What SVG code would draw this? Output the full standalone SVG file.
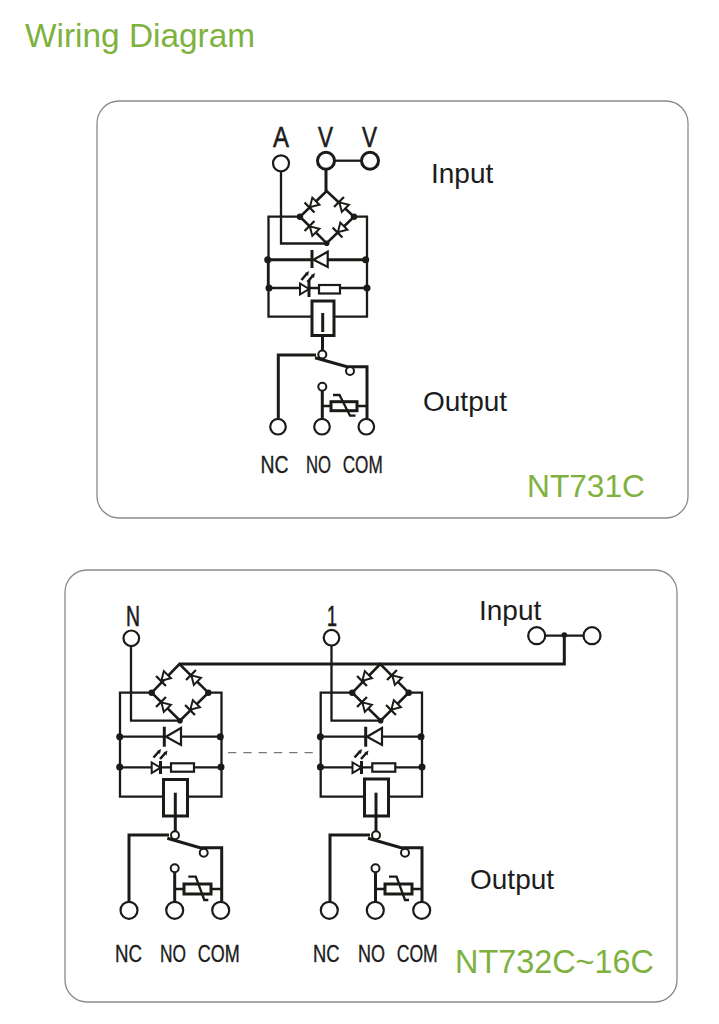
<svg xmlns="http://www.w3.org/2000/svg" xmlns:xlink="http://www.w3.org/1999/xlink" width="719" height="1024" viewBox="0 0 719 1024">
<style>
text{font-family:"Liberation Sans",Arial,sans-serif;fill:#1c1c1c}
.g{fill:#7fb13f}
.panel{fill:#fff;stroke:#8a8a8a;stroke-width:1.3}
.w{fill:none;stroke:#1c1a17;stroke-width:2.3;stroke-linejoin:miter}
.h{fill:none;stroke:#1c1a17;stroke-width:3;stroke-linejoin:miter}
.m{fill:none;stroke:#1c1a17;stroke-width:2.6;stroke-linejoin:miter}
.t{fill:#fff;stroke:#1c1a17;stroke-width:2.2}
.s{fill:#fff;stroke:#1c1a17;stroke-width:2}
.b{fill:#fff;stroke:#1c1a17;stroke-width:3}
.d{fill:#1c1a17}
.c{font-size:23px;stroke:#1c1c1c;stroke-width:.35}
.l{font-size:29px;stroke:#1c1c1c;stroke-width:.6}
.x{font-size:28px}
</style>
<defs>
<g id="bd"><path d="M0 -7V7" class="w"/><path d="M0.500 0L9 -5V5Z" class="s"/></g>
</defs>
<rect width="719" height="1024" fill="#fff"/>
<text class="g" x="25" y="47" font-size="33.4">Wiring Diagram</text>
<rect id="panel-top" class="panel" x="97" y="101" width="591" height="417" rx="22"/>
<rect id="panel-bottom" class="panel" x="65" y="570" width="612" height="432" rx="22"/>

<g id="connectors">
<path class="w" d="M281 171V243.500H327"/>
<path class="h" d="M326 169V191"/>
<path class="w" d="M334 160.700H362"/>
<path class="m" d="M326.700 191L300 216.700L326.700 243.300L354 216.700Z"/>
<path class="w" d="M300 216.700H268.500V316.700H312M354 216.700H367V316.700H334"/>
<path class="h" d="M268 259.700H312M328 259.700H366"/>
<path class="w" d="M268 259.700V288M269 288H301M309 288H319M340 288H367"/>
<path class="h" d="M322.500 335V351"/>
<path class="h" d="M278.300 418V355H316M315 357.700L347 366.700H367V418"/>
<path class="h" d="M322.300 390V418"/>
<path class="w" d="M322.300 406H331M357.300 406H367"/>
<path class="w" d="M131 646V720.700H180"/>
<path class="h" d="M179.500 664H564.300V635"/>
<path class="w" d="M545.500 635.700H583"/>
<path class="m" d="M179.500 664L151.700 692.700L180 720.700L208.300 692.700Z"/>
<path class="w" d="M151.700 692.700H120V796.700H163M208.300 692.700H221.500V796.700H188"/>
<path class="w" d="M120 736.700H164M181 736.700H221"/>
<path class="w" d="M120 767.300H152M160 767.300H171M194 767.300H221"/>
<path class="h" d="M175.300 816V832"/>
<path class="h" d="M129 901.500V835H169M167.300 838.300L200 847.700H221.700V901.500"/>
<path class="h" d="M174.700 871.700V901.500"/>
<path class="w" d="M174.700 889H184M211 889H221.700"/>
<path class="w" d="M331.500 646V720.700H381"/>
<path class="m" d="M380.300 664L352.300 692.700L380.700 720.700L408.700 692.700Z"/>
<path class="w" d="M352.300 692.700H320.700V796.700H364M408.700 692.700H422V796.700H389"/>
<path class="w" d="M320.700 736.700H365M382 736.700H421"/>
<path class="w" d="M320.700 767.300H353M361 767.300H372M395 767.300H422"/>
<path class="h" d="M376 816V832"/>
<path class="h" d="M330 901.500V835H370M368 838.300L401 847.700H422V901.500"/>
<path class="h" d="M375.500 871.700V901.500"/>
<path class="w" d="M375.500 889H385M412 889H422"/>
<path d="M228 752.700H316" fill="none" stroke="#777" stroke-width="1.300" stroke-dasharray="8.300 7"/>
</g>

<g id="circuit-top">
<g id="top-terminals">
<circle class="t" cx="281" cy="163.300" r="8"/><circle class="b" cx="326" cy="160.700" r="8.500"/><circle class="b" cx="370" cy="160.700" r="8.500"/>
<text class="l" x="281" y="146.500" text-anchor="middle" textLength="16" lengthAdjust="spacingAndGlyphs">A</text>
<text class="l" x="325.500" y="146.500" text-anchor="middle" textLength="15" lengthAdjust="spacingAndGlyphs">V</text>
<text class="l" x="369.500" y="146.500" text-anchor="middle" textLength="15" lengthAdjust="spacingAndGlyphs">V</text>
</g>
<g id="top-bridge">
<use xlink:href="#bd" href="#bd" transform="translate(309.500 207.500) rotate(-45)"/>
<use xlink:href="#bd" href="#bd" transform="translate(339 202) rotate(45)"/>
<use xlink:href="#bd" href="#bd" transform="translate(309.500 226) rotate(45)"/>
<use xlink:href="#bd" href="#bd" transform="translate(337.500 232.500) rotate(-45)"/>
<circle class="d" cx="300" cy="216.700" r="3.200"/><circle class="d" cx="354" cy="216.700" r="3.200"/><circle class="d" cx="326.700" cy="243.300" r="2.800"/>
</g>
<g id="top-diode">
<path class="h" d="M312 250V268"/><path class="t" d="M313.500 259.700L327.700 251.700V267Z"/>
<circle class="d" cx="267.700" cy="259.700" r="3.500"/><circle class="d" cx="365.700" cy="259.700" r="3.500"/>
</g>
<g id="top-led">
<path class="s" d="M300 283.500V294.500L309 289Z"/><path class="h" d="M309 280V297"/>
<path class="m" d="M301.500 280L306.500 274M307.500 282L312.500 276"/>
<path class="d" d="M305 273L309 271L308 276ZM311 275L315 273L314 278Z"/>
<rect class="t" x="319" y="285" width="21" height="8.500"/>
<circle class="d" cx="269" cy="288" r="3.500"/><circle class="d" cx="367" cy="288" r="3.500"/>
</g>
<g id="top-coil">
<rect class="b" x="312" y="301" width="22" height="34.500"/>
<path class="h" d="M322.700 313V332"/>
</g>
<g id="top-contact">
<circle class="s" cx="322.300" cy="354.500" r="4"/><circle class="s" cx="350" cy="371" r="4"/><circle class="s" cx="322.300" cy="386.700" r="4"/>
</g>
<g id="top-varistor">
<rect class="b" x="331" y="401.700" width="26" height="9"/>
<path class="w" d="M333 395H339.500L350 415.700H355.500"/>
</g>
<g id="top-outputs">
<circle class="t" cx="278" cy="426.700" r="7.800"/><circle class="t" cx="322" cy="426.700" r="7.800"/><circle class="t" cx="366.300" cy="426.700" r="7.800"/>
<text class="c" x="260.500" y="473.300" textLength="28" lengthAdjust="spacingAndGlyphs">NC</text>
<text class="c" x="306" y="473.300" textLength="25" lengthAdjust="spacingAndGlyphs">NO</text>
<text class="c" x="342.700" y="473.300" textLength="40" lengthAdjust="spacingAndGlyphs">COM</text>
</g>
<text class="x" x="431" y="183">Input</text>
<text class="x" x="423" y="411">Output</text>
<text class="g" x="527" y="497" font-size="31.700">NT731C</text>
</g>

<g id="circuit-bottom-left">
<circle class="t" cx="131.300" cy="638.300" r="7.800"/>
<text class="l" x="133" y="626" text-anchor="middle" textLength="14" lengthAdjust="spacingAndGlyphs">N</text>
<g id="left-bridge">
<use xlink:href="#bd" href="#bd" transform="translate(161 681) rotate(-45)"/>
<use xlink:href="#bd" href="#bd" transform="translate(191 675) rotate(45)"/>
<use xlink:href="#bd" href="#bd" transform="translate(161 702) rotate(45)"/>
<use xlink:href="#bd" href="#bd" transform="translate(190 710) rotate(-45)"/>
<circle class="d" cx="151.700" cy="692.700" r="3.200"/><circle class="d" cx="208.300" cy="692.700" r="3.200"/><circle class="d" cx="180" cy="720.700" r="2.800"/>
</g>
<g id="left-diode">
<path class="h" d="M164.300 726.700V746.700"/><path class="t" d="M166 736.700L181 728V745Z"/>
<circle class="d" cx="119.700" cy="736.700" r="3.500"/><circle class="d" cx="220.300" cy="736.700" r="3.500"/>
</g>
<g id="left-led">
<path class="s" d="M151.700 762.500V773L160.500 767.700Z"/><path class="h" d="M160.500 761V774"/>
<path class="m" d="M153.500 757.500L158.500 752M160 759L165 753.500"/>
<path class="d" d="M157 751L161 749L160 754ZM163.500 752.500L167.500 750.500L166.500 755.500Z"/>
<rect class="t" x="171" y="763.300" width="23" height="8.400"/>
<circle class="d" cx="119.700" cy="767" r="3.500"/><circle class="d" cx="221" cy="767" r="3.500"/>
</g>
<g id="left-coil">
<rect class="b" x="163.500" y="779.500" width="24" height="36.500"/>
<path class="h" d="M175.300 792.700V815"/>
</g>
<g id="left-contact">
<circle class="s" cx="175" cy="835.300" r="4"/><circle class="s" cx="203.700" cy="852.700" r="4"/><circle class="s" cx="174.700" cy="868.300" r="4"/>
</g>
<g id="left-varistor">
<rect class="b" x="184" y="884" width="27" height="10"/>
<path class="w" d="M188.300 876.700H195.700L204.300 900H208.300"/>
</g>
<g id="left-outputs">
<circle class="t" cx="129" cy="910.300" r="8.500"/><circle class="t" cx="174.700" cy="910.300" r="8.500"/><circle class="t" cx="220.700" cy="910.300" r="8.500"/>
<text class="c" x="115" y="961.700" textLength="27" lengthAdjust="spacingAndGlyphs">NC</text>
<text class="c" x="160" y="961.700" textLength="26" lengthAdjust="spacingAndGlyphs">NO</text>
<text class="c" x="197.700" y="961.700" textLength="42" lengthAdjust="spacingAndGlyphs">COM</text>
</g>
</g>

<g id="circuit-bottom-right">
<circle class="t" cx="331.500" cy="637.700" r="7.800"/>
<text class="l" x="332" y="626" text-anchor="middle" textLength="10" lengthAdjust="spacingAndGlyphs">1</text>
<g id="right-bridge">
<use xlink:href="#bd" href="#bd" transform="translate(362 681) rotate(-45)"/>
<use xlink:href="#bd" href="#bd" transform="translate(392 675) rotate(45)"/>
<use xlink:href="#bd" href="#bd" transform="translate(362 702) rotate(45)"/>
<use xlink:href="#bd" href="#bd" transform="translate(391 710) rotate(-45)"/>
<circle class="d" cx="352.300" cy="692.700" r="3.200"/><circle class="d" cx="408.700" cy="692.700" r="3.200"/><circle class="d" cx="380.700" cy="720.700" r="2.800"/>
</g>
<g id="right-diode">
<path class="h" d="M365.700 726.700V746.700"/><path class="t" d="M367 736.700L382 728V745Z"/>
<circle class="d" cx="320.400" cy="736.700" r="3.500"/><circle class="d" cx="421" cy="736.700" r="3.500"/>
</g>
<g id="right-led">
<path class="s" d="M352.500 762.500V773L361.500 767.700Z"/><path class="h" d="M361.500 761V774"/>
<path class="m" d="M354.500 757.500L359.500 752M361 759L366 753.500"/>
<path class="d" d="M358 751L362 749L361 754ZM364.500 752.500L368.500 750.500L367.500 755.500Z"/>
<rect class="t" x="372.300" y="763.300" width="23" height="8.400"/>
<circle class="d" cx="320.400" cy="767" r="3.500"/><circle class="d" cx="422" cy="767" r="3.500"/>
</g>
<g id="right-coil">
<rect class="b" x="364.500" y="779" width="24" height="37"/>
<path class="h" d="M376 792.700V815"/>
</g>
<g id="right-contact">
<circle class="s" cx="376" cy="835.300" r="4"/><circle class="s" cx="405" cy="852.700" r="4"/><circle class="s" cx="375.500" cy="868.300" r="4"/>
</g>
<g id="right-varistor">
<rect class="b" x="385" y="884" width="27" height="10"/>
<path class="w" d="M389 876.700H396.500L405 900H409"/>
</g>
<g id="right-outputs">
<circle class="t" cx="329.300" cy="910.300" r="8.500"/><circle class="t" cx="375.300" cy="910.300" r="8.500"/><circle class="t" cx="421.700" cy="910.300" r="8.500"/>
<text class="c" x="313" y="961.700" textLength="26.500" lengthAdjust="spacingAndGlyphs">NC</text>
<text class="c" x="358" y="961.700" textLength="27" lengthAdjust="spacingAndGlyphs">NO</text>
<text class="c" x="396.700" y="961.700" textLength="41" lengthAdjust="spacingAndGlyphs">COM</text>
</g>
</g>

<g id="input-bottom">
<circle class="t" cx="536.700" cy="635.700" r="8.500"/><circle class="t" cx="592" cy="635.700" r="8.500"/>
<circle class="d" cx="564.300" cy="635" r="2.800"/>
<text class="x" x="479" y="619.500">Input</text>
</g>
<text class="x" x="470" y="889">Output</text>
<text class="g" x="455" y="973" font-size="32.400">NT732C~16C</text>
</svg>
